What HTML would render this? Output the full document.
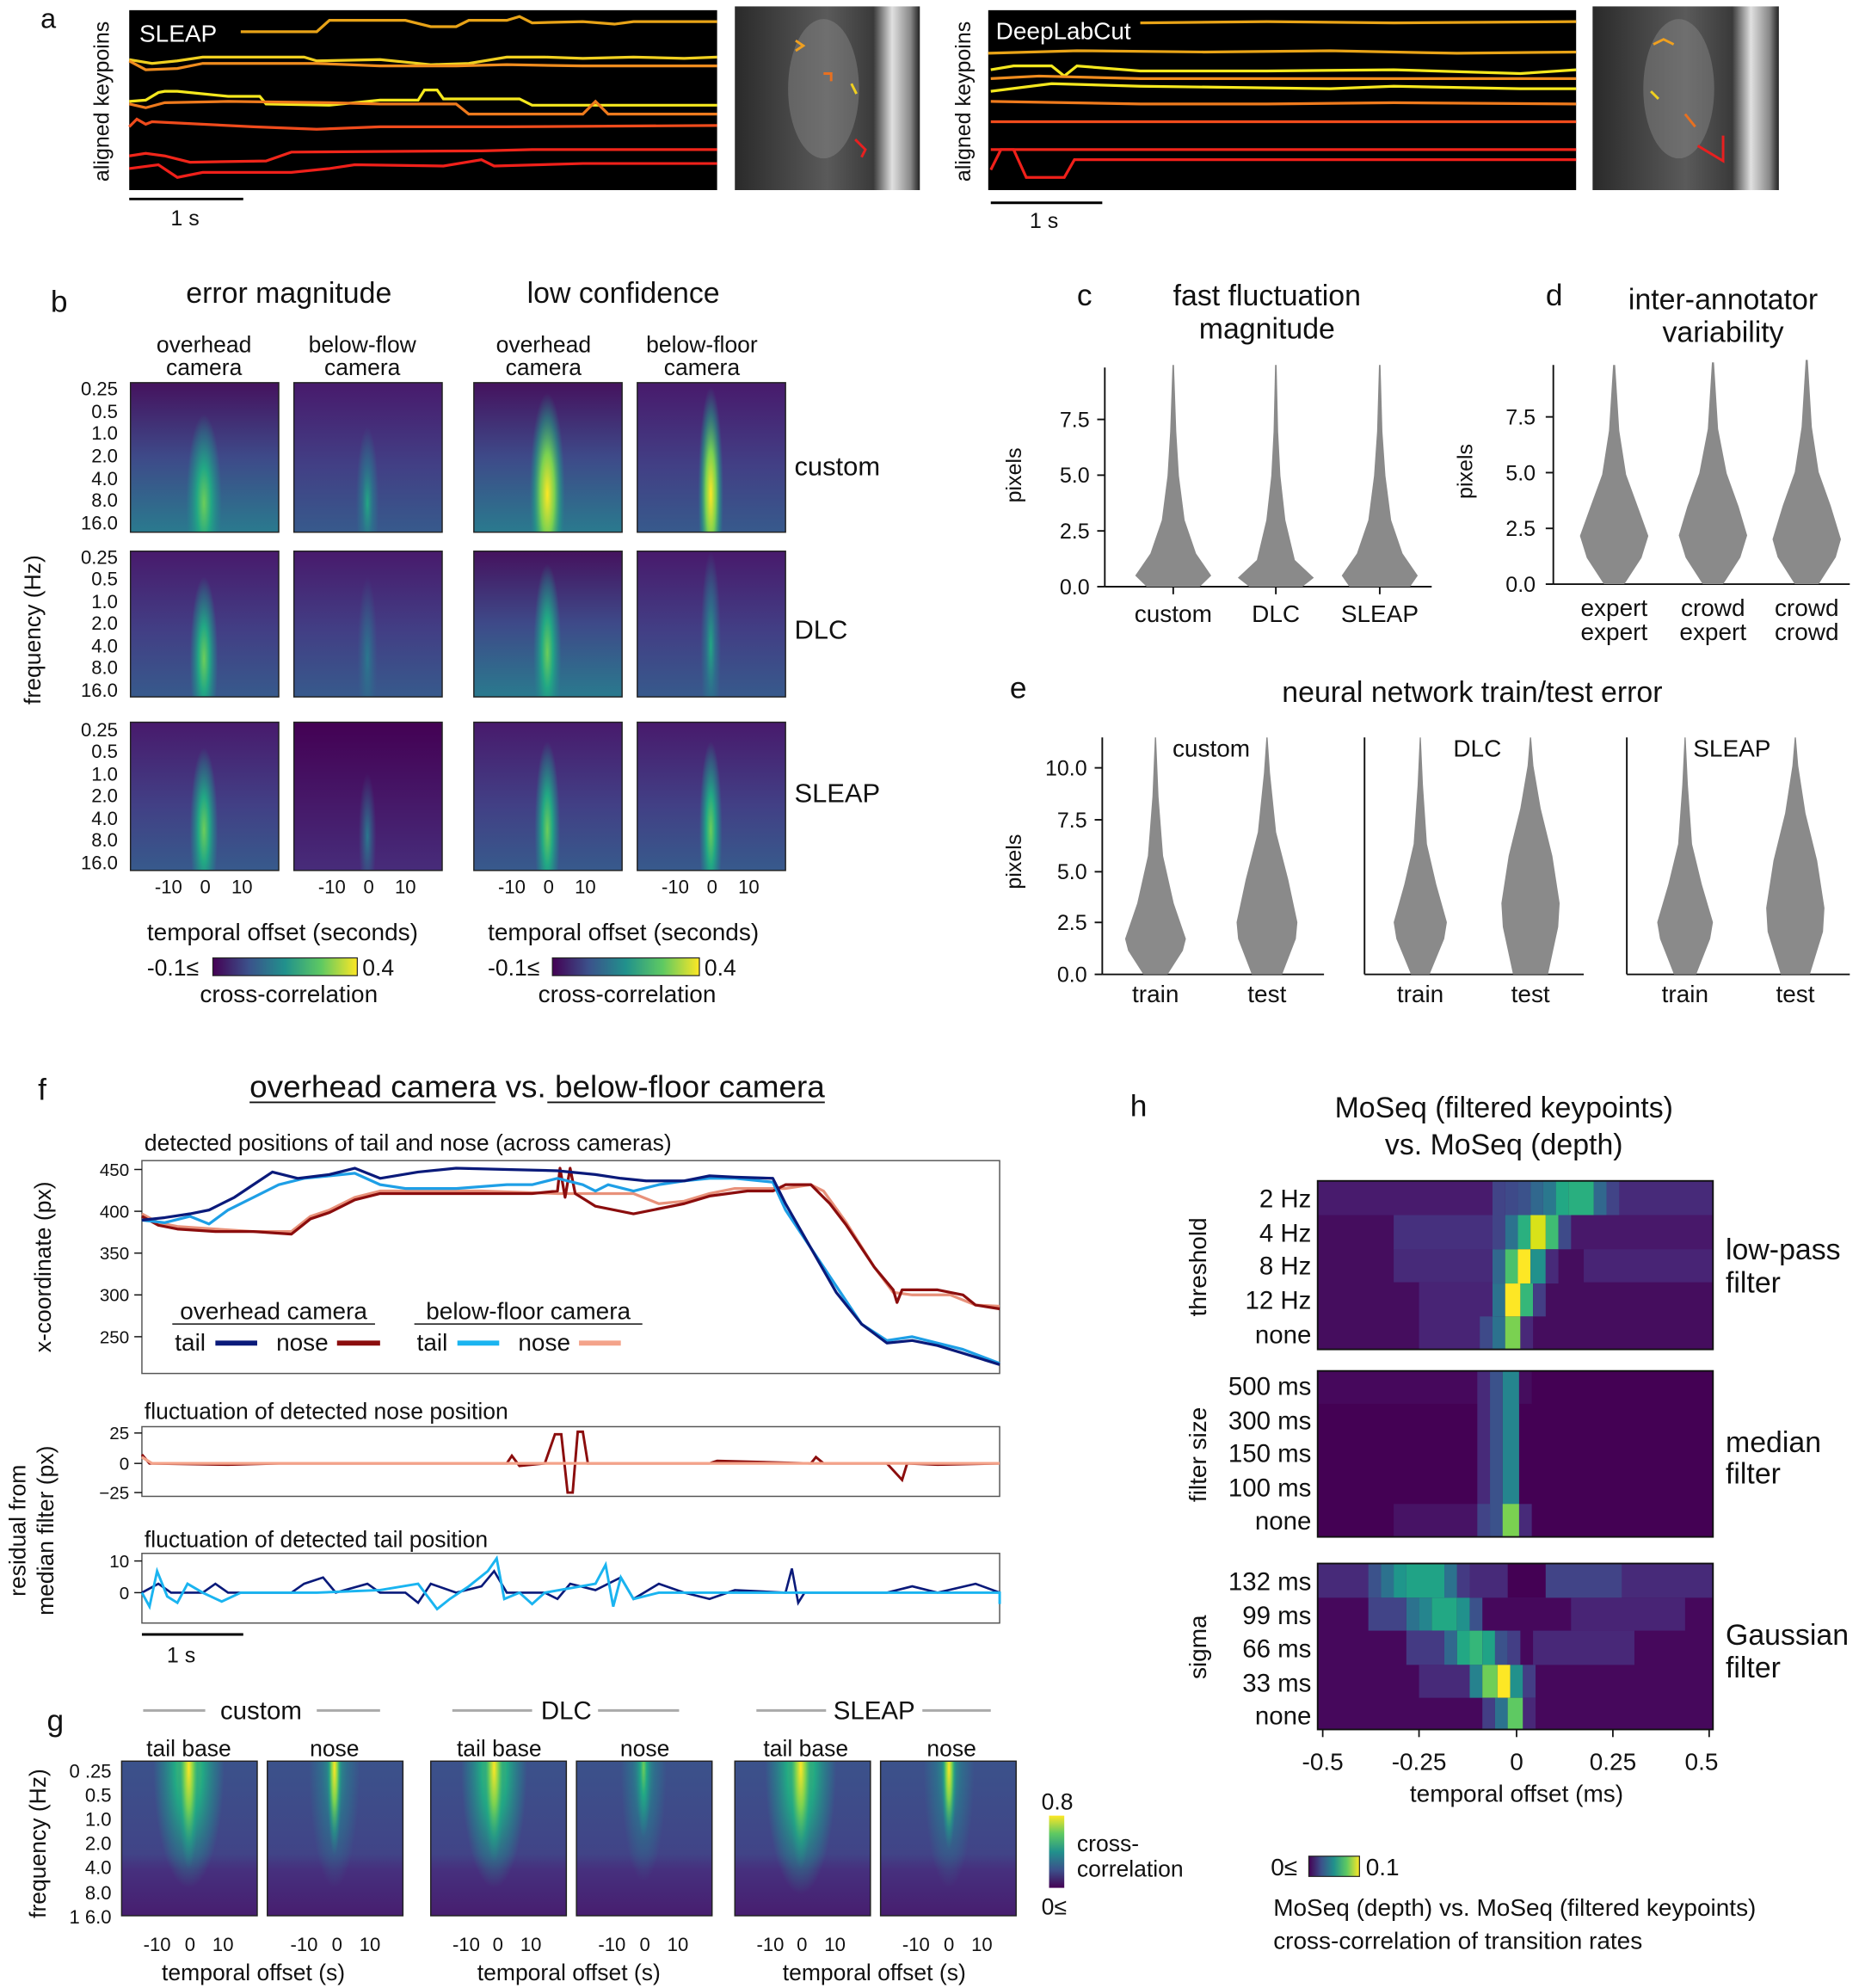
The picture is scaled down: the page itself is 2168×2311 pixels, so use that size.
<!DOCTYPE html>
<html><head><meta charset="utf-8"><style>
html,body{margin:0;padding:0;background:#fff;}
svg{display:block;}
text{font-family:"Liberation Sans","DejaVu Sans",sans-serif;fill:#111;}
</style></head><body>
<svg width="2168" height="2311" viewBox="0 0 1472 1569" xmlns="http://www.w3.org/2000/svg">
<defs>
<linearGradient id="bgA" x1="0" y1="0" x2="0" y2="1"><stop offset="0" stop-color="#45125e"/><stop offset="0.5" stop-color="#3e4a89"/><stop offset="1" stop-color="#2a7a8e"/></linearGradient>
<linearGradient id="bgB" x1="0" y1="0" x2="0" y2="1"><stop offset="0" stop-color="#481a6c"/><stop offset="0.55" stop-color="#423f85"/><stop offset="1" stop-color="#375a8c"/></linearGradient>
<linearGradient id="bgC" x1="0" y1="0" x2="0" y2="1"><stop offset="0" stop-color="#440154"/><stop offset="1" stop-color="#472c7a"/></linearGradient>
<linearGradient id="bgG" x1="0" y1="0" x2="0" y2="1"><stop offset="0" stop-color="#3b528b"/><stop offset="0.6" stop-color="#414487"/><stop offset="0.7" stop-color="#46307e"/><stop offset="1" stop-color="#471e6f"/></linearGradient>
<radialGradient id="glY"><stop offset="0" stop-color="#fde725"/><stop offset="0.4" stop-color="#7ad151"/><stop offset="0.75" stop-color="#22a884" stop-opacity="0.5"/><stop offset="1" stop-color="#21918c" stop-opacity="0"/></radialGradient>
<radialGradient id="glG"><stop offset="0" stop-color="#6ccd5a"/><stop offset="0.4" stop-color="#22a884"/><stop offset="0.8" stop-color="#21918c" stop-opacity="0.4"/><stop offset="1" stop-color="#21918c" stop-opacity="0"/></radialGradient>
<radialGradient id="glT"><stop offset="0" stop-color="#22a884"/><stop offset="0.5" stop-color="#2a788e" stop-opacity="0.7"/><stop offset="1" stop-color="#2a788e" stop-opacity="0"/></radialGradient>
<radialGradient id="glF"><stop offset="0" stop-color="#2a788e"/><stop offset="1" stop-color="#31688e" stop-opacity="0"/></radialGradient>
<linearGradient id="cbH" x1="0" y1="0" x2="1" y2="0"><stop offset="0" stop-color="#440154"/><stop offset="0.25" stop-color="#3b528b"/><stop offset="0.5" stop-color="#21918c"/><stop offset="0.75" stop-color="#5ec962"/><stop offset="1" stop-color="#fde725"/></linearGradient>
<linearGradient id="cbV" x1="0" y1="1" x2="0" y2="0"><stop offset="0" stop-color="#440154"/><stop offset="0.25" stop-color="#3b528b"/><stop offset="0.5" stop-color="#21918c"/><stop offset="0.75" stop-color="#5ec962"/><stop offset="1" stop-color="#fde725"/></linearGradient>
<linearGradient id="mouse" x1="0" y1="0" x2="1" y2="0"><stop offset="0" stop-color="#2a2a2a"/><stop offset="0.5" stop-color="#5a5a5a"/><stop offset="0.75" stop-color="#3a3a3a"/><stop offset="0.85" stop-color="#e0e0e0"/><stop offset="0.95" stop-color="#888"/><stop offset="1" stop-color="#222"/></linearGradient>
</defs>

<!-- Panel a -->
<text x="32" y="22" font-size="22">a</text>
<rect x="102" y="8" width="464" height="142" fill="#000"/>
<text x="110" y="33" font-size="19" style="fill:#fff">SLEAP</text>
<g fill="none" stroke-width="2.2">
<polyline stroke="#e8a317" points="190,25 250,25 260,16 320,16 340,21 360,21 370,16 400,16 410,13 420,18 460,17 485,19 500,17 566,17"/>
<polyline stroke="#f0d020" points="102,47 120,50 140,48 160,45 240,45 250,48 300,47 340,51 370,50 400,45 430,45 460,46 500,45 540,46 566,45"/>
<polyline stroke="#ef8c1e" points="102,48 115,55 140,54 160,50 250,50 300,52 360,52 400,51 460,52 566,52"/>
<polyline stroke="#f5e81e" points="102,80 115,79 125,73 130,72 140,72 180,76 205,76 210,82 260,83 300,79 330,79 335,71 345,71 350,78 380,78 410,78 420,83 460,83 520,83 566,83"/>
<polyline stroke="#ee7a1d" points="102,82 115,85 130,81 180,80 260,81 300,82 360,82 370,90 460,90 470,80 480,90 520,90 566,90"/>
<polyline stroke="#ef4b1c" points="102,100 108,94 115,98 120,96 200,100 250,102 300,100 400,100 566,99"/>
<polyline stroke="#f0261a" points="102,123 115,121 130,123 150,128 210,127 230,120 380,119 420,118 470,118 566,118"/>
<polyline stroke="#f0201a" points="102,133 125,130 140,140 160,136 230,136 260,133 280,130 350,131 380,126 390,131 460,129 566,129"/>
</g>
<rect x="580" y="5" width="146" height="145" fill="url(#mouse)"/>
<ellipse cx="650" cy="70" rx="28" ry="55" fill="#8a8a8a" opacity="0.45"/>
<g fill="none" stroke-width="2"><path d="M628,32 l6,4 -6,4" stroke="#f0a020"/><path d="M650,58 l6,0 0,6" stroke="#e87020"/><path d="M672,66 l4,8" stroke="#f0d020"/><path d="M675,110 l8,8 -3,6" stroke="#e82020"/></g>
<text x="86" y="80" font-size="17" transform="rotate(-90 86 80)" text-anchor="middle">aligned keypoins</text>
<line x1="102" y1="157" x2="192" y2="157" stroke="#000" stroke-width="2"/>
<text x="146" y="178" font-size="17" text-anchor="middle">1 s</text>

<rect x="780" y="8" width="464" height="142" fill="#000"/>
<text x="786" y="31" font-size="19" style="fill:#fff">DeepLabCut</text>
<g fill="none" stroke-width="2.2">
<polyline stroke="#e8a317" points="900,18 1000,17 1100,18 1244,17"/>
<polyline stroke="#e8a317" points="780,42 850,40 950,41 1050,40 1150,42 1244,41"/>
<polyline stroke="#f5e81e" points="782,55 800,52 830,52 840,60 850,52 900,56 1000,56 1100,55 1200,58 1244,55"/>
<polyline stroke="#ef8c1e" points="782,62 820,60 900,62 1000,62 1100,62 1244,62"/>
<polyline stroke="#f5e81e" points="782,72 830,66 900,68 1050,70 1100,68 1200,70 1244,70"/>
<polyline stroke="#ee7a1d" points="782,80 900,82 1000,82 1100,81 1244,82"/>
<polyline stroke="#ef4b1c" points="782,96 900,96 1000,96 1244,96"/>
<polyline stroke="#f0261a" points="782,118 900,118 1000,118 1244,118"/>
<polyline stroke="#f0201a" points="782,134 790,118 800,118 810,140 840,140 848,126 900,126 1000,126 1244,126"/>
</g>
<rect x="1257" y="5" width="147" height="145" fill="url(#mouse)"/>
<ellipse cx="1325" cy="70" rx="28" ry="55" fill="#8a8a8a" opacity="0.45"/>
<g fill="none" stroke-width="2"><path d="M1305,35 l8,-4 8,4" stroke="#f0a020"/><path d="M1303,72 l6,6" stroke="#f0d020"/><path d="M1330,90 l8,10" stroke="#e87020"/><path d="M1340,115 l20,12 0,-20" stroke="#e82020"/></g>
<text x="766" y="80" font-size="17" transform="rotate(-90 766 80)" text-anchor="middle">aligned keypoins</text>
<line x1="782" y1="160" x2="870" y2="160" stroke="#000" stroke-width="2"/>
<text x="824" y="180" font-size="17" text-anchor="middle">1 s</text>

<!-- Panel b -->
<text x="40" y="246" font-size="24">b</text>
<text x="228" y="239" font-size="23" text-anchor="middle">error magnitude</text>
<text x="492" y="239" font-size="23" text-anchor="middle">low confidence</text>
<g font-size="18" text-anchor="middle">
<text x="161" y="278">overhead</text><text x="161" y="296">camera</text>
<text x="286" y="278">below-flow</text><text x="286" y="296">camera</text>
<text x="429" y="278">overhead</text><text x="429" y="296">camera</text>
<text x="554" y="278">below-floor</text><text x="554" y="296">camera</text>
</g>
<!-- custom -->
<svg x="103" y="302" width="117" height="118"><rect width="117" height="118" fill="url(#bgA)"/><ellipse cx="58" cy="95" rx="14" ry="70" fill="url(#glG)"/></svg>
<svg x="232" y="302" width="117" height="118"><rect width="117" height="118" fill="url(#bgB)"/><ellipse cx="58" cy="95" rx="9" ry="60" fill="url(#glT)"/></svg>
<svg x="374" y="302" width="117" height="118"><rect width="117" height="118" fill="url(#bgA)"/><ellipse cx="58" cy="88" rx="14" ry="80" fill="url(#glY)"/></svg>
<svg x="503" y="302" width="117" height="118"><rect width="117" height="118" fill="url(#bgB)"/><ellipse cx="58" cy="88" rx="10" ry="85" fill="url(#glY)"/></svg>
<!-- DLC -->
<svg x="103" y="435" width="117" height="115"><rect width="117" height="115" fill="url(#bgB)"/><ellipse cx="58" cy="85" rx="11" ry="65" fill="url(#glG)"/></svg>
<svg x="232" y="435" width="117" height="115"><rect width="117" height="115" fill="url(#bgB)"/><ellipse cx="58" cy="85" rx="8" ry="65" fill="url(#glF)"/></svg>
<svg x="374" y="435" width="117" height="115"><rect width="117" height="115" fill="url(#bgA)"/><ellipse cx="58" cy="80" rx="11" ry="70" fill="url(#glG)"/></svg>
<svg x="503" y="435" width="117" height="115"><rect width="117" height="115" fill="url(#bgB)"/><ellipse cx="58" cy="75" rx="8" ry="75" fill="url(#glT)"/></svg>
<!-- SLEAP -->
<svg x="103" y="570" width="117" height="117"><rect width="117" height="117" fill="url(#bgB)"/><ellipse cx="58" cy="85" rx="11" ry="65" fill="url(#glG)"/></svg>
<svg x="232" y="570" width="117" height="117"><rect width="117" height="117" fill="url(#bgC)"/><ellipse cx="58" cy="90" rx="7" ry="50" fill="url(#glF)"/></svg>
<svg x="374" y="570" width="117" height="117"><rect width="117" height="117" fill="url(#bgB)"/><ellipse cx="58" cy="85" rx="10" ry="70" fill="url(#glG)"/></svg>
<svg x="503" y="570" width="117" height="117"><rect width="117" height="117" fill="url(#bgB)"/><ellipse cx="58" cy="85" rx="9" ry="70" fill="url(#glG)"/></svg>
<g fill="none" stroke="#222" stroke-width="1">
<rect x="103" y="302" width="117" height="118"/><rect x="232" y="302" width="117" height="118"/><rect x="374" y="302" width="117" height="118"/><rect x="503" y="302" width="117" height="118"/>
<rect x="103" y="435" width="117" height="115"/><rect x="232" y="435" width="117" height="115"/><rect x="374" y="435" width="117" height="115"/><rect x="503" y="435" width="117" height="115"/>
<rect x="103" y="570" width="117" height="117"/><rect x="232" y="570" width="117" height="117"/><rect x="374" y="570" width="117" height="117"/><rect x="503" y="570" width="117" height="117"/>
</g>
<g font-size="15" text-anchor="end">
<text x="93" y="312">0.25</text><text x="93" y="330">0.5</text><text x="93" y="347">1.0</text><text x="93" y="365">2.0</text><text x="93" y="383">4.0</text><text x="93" y="400">8.0</text><text x="93" y="418">16.0</text>
<text x="93" y="445">0.25</text><text x="93" y="462">0.5</text><text x="93" y="480">1.0</text><text x="93" y="497">2.0</text><text x="93" y="515">4.0</text><text x="93" y="532">8.0</text><text x="93" y="550">16.0</text>
<text x="93" y="581">0.25</text><text x="93" y="598">0.5</text><text x="93" y="616">1.0</text><text x="93" y="633">2.0</text><text x="93" y="651">4.0</text><text x="93" y="668">8.0</text><text x="93" y="686">16.0</text>
</g>
<g font-size="21"><text x="627" y="375">custom</text><text x="627" y="504">DLC</text><text x="627" y="633">SLEAP</text></g>
<text x="32" y="497" font-size="18" text-anchor="middle" transform="rotate(-90 32 497)">frequency (Hz)</text>
<g font-size="15" text-anchor="middle">
<text x="133" y="705">-10</text><text x="162" y="705">0</text><text x="191" y="705">10</text>
<text x="262" y="705">-10</text><text x="291" y="705">0</text><text x="320" y="705">10</text>
<text x="404" y="705">-10</text><text x="433" y="705">0</text><text x="462" y="705">10</text>
<text x="533" y="705">-10</text><text x="562" y="705">0</text><text x="591" y="705">10</text>
</g>
<g font-size="19" text-anchor="middle">
<text x="223" y="742">temporal offset (seconds)</text><text x="492" y="742">temporal offset (seconds)</text>
<text x="228" y="791">cross-correlation</text><text x="495" y="791">cross-correlation</text>
</g>
<rect x="168" y="756" width="114" height="14" fill="url(#cbH)" stroke="#222" stroke-width="0.8"/>
<rect x="436" y="756" width="116" height="14" fill="url(#cbH)" stroke="#222" stroke-width="0.8"/>
<g font-size="18"><text x="116" y="770">-0.1≤</text><text x="286" y="770">0.4</text><text x="385" y="770">-0.1≤</text><text x="556" y="770">0.4</text></g>

<!-- Panel c -->
<text x="850" y="241" font-size="24">c</text>
<text x="1000" y="241" font-size="23" text-anchor="middle">fast fluctuation</text>
<text x="1000" y="267" font-size="23" text-anchor="middle">magnitude</text>
<g stroke="#111" stroke-width="1.3"><line x1="872" y1="290" x2="872" y2="463"/><line x1="872" y1="463" x2="1130" y2="463"/>
<line x1="866" y1="463" x2="872" y2="463"/><line x1="866" y1="419" x2="872" y2="419"/><line x1="866" y1="375" x2="872" y2="375"/><line x1="866" y1="331" x2="872" y2="331"/>
<line x1="926" y1="463" x2="926" y2="469"/><line x1="1007" y1="463" x2="1007" y2="469"/><line x1="1089" y1="463" x2="1089" y2="469"/></g>
<g font-size="17" text-anchor="end"><text x="860" y="469">0.0</text><text x="860" y="425">2.5</text><text x="860" y="381">5.0</text><text x="860" y="337">7.5</text></g>
<text x="806" y="375" font-size="17" text-anchor="middle" transform="rotate(-90 806 375)">pixels</text>
<g font-size="19" text-anchor="middle"><text x="926" y="491">custom</text><text x="1007" y="491">DLC</text><text x="1089" y="491">SLEAP</text></g>
<g fill="#8a8a8a">
<polygon transform="translate(926,463) scale(30,175)" points="0.7,0 1,-0.05 0.6,-0.15 0.3,-0.3 0.15,-0.5 0.08,-0.7 0.02,-1 -0.02,-1 -0.08,-0.7 -0.15,-0.5 -0.3,-0.3 -0.6,-0.15 -1,-0.05 -0.7,0"/>
<polygon transform="translate(1007,463) scale(30,175)" points="0.7,0 1,-0.04 0.5,-0.12 0.25,-0.3 0.12,-0.5 0.06,-0.7 0.02,-1 -0.02,-1 -0.06,-0.7 -0.12,-0.5 -0.25,-0.3 -0.5,-0.12 -1,-0.04 -0.7,0"/>
<polygon transform="translate(1089,463) scale(30,175)" points="0.8,0 1,-0.05 0.6,-0.15 0.3,-0.3 0.15,-0.5 0.07,-0.7 0.02,-1 -0.02,-1 -0.07,-0.7 -0.15,-0.5 -0.3,-0.3 -0.6,-0.15 -1,-0.05 -0.8,0"/>
</g>

<!-- Panel d -->
<text x="1220" y="241" font-size="24">d</text>
<text x="1360" y="244" font-size="23" text-anchor="middle">inter-annotator</text>
<text x="1360" y="270" font-size="23" text-anchor="middle">variability</text>
<g stroke="#111" stroke-width="1.3"><line x1="1226" y1="288" x2="1226" y2="461"/><line x1="1226" y1="461" x2="1460" y2="461"/>
<line x1="1220" y1="461" x2="1226" y2="461"/><line x1="1220" y1="417" x2="1226" y2="417"/><line x1="1220" y1="373" x2="1226" y2="373"/><line x1="1220" y1="329" x2="1226" y2="329"/></g>
<g font-size="17" text-anchor="end"><text x="1212" y="467">0.0</text><text x="1212" y="423">2.5</text><text x="1212" y="379">5.0</text><text x="1212" y="335">7.5</text></g>
<text x="1162" y="372" font-size="17" text-anchor="middle" transform="rotate(-90 1162 372)">pixels</text>
<g font-size="19" text-anchor="middle"><text x="1274" y="486">expert</text><text x="1274" y="505">expert</text><text x="1352" y="486">crowd</text><text x="1352" y="505">expert</text><text x="1426" y="486">crowd</text><text x="1426" y="505">crowd</text></g>
<g fill="#8a8a8a">
<polygon transform="translate(1274,461) scale(27,173)" points="0.3,0 0.8,-0.12 1,-0.22 0.7,-0.35 0.35,-0.5 0.15,-0.7 0.03,-1 -0.03,-1 -0.15,-0.7 -0.35,-0.5 -0.7,-0.35 -1,-0.22 -0.8,-0.12 -0.3,0"/>
<polygon transform="translate(1352,461) scale(27,175)" points="0.3,0 0.8,-0.12 1,-0.22 0.75,-0.35 0.4,-0.5 0.15,-0.7 0.03,-1 -0.03,-1 -0.15,-0.7 -0.4,-0.5 -0.75,-0.35 -1,-0.22 -0.8,-0.12 -0.3,0"/>
<polygon transform="translate(1426,461) scale(27,177)" points="0.35,0 0.85,-0.12 1,-0.2 0.7,-0.35 0.35,-0.5 0.15,-0.7 0.03,-1 -0.03,-1 -0.15,-0.7 -0.35,-0.5 -0.7,-0.35 -1,-0.2 -0.85,-0.12 -0.35,0"/>
</g>

<!-- Panel e -->
<text x="797" y="551" font-size="24">e</text>
<text x="1162" y="554" font-size="23" text-anchor="middle">neural network train/test error</text>
<g stroke="#111" stroke-width="1.3">
<line x1="870" y1="582" x2="870" y2="769"/><line x1="870" y1="769" x2="1045" y2="769"/>
<line x1="1077" y1="582" x2="1077" y2="769"/><line x1="1077" y1="769" x2="1250" y2="769"/>
<line x1="1284" y1="582" x2="1284" y2="769"/><line x1="1284" y1="769" x2="1460" y2="769"/>
<line x1="864" y1="769" x2="870" y2="769"/><line x1="864" y1="728" x2="870" y2="728"/><line x1="864" y1="688" x2="870" y2="688"/><line x1="864" y1="647" x2="870" y2="647"/><line x1="864" y1="606" x2="870" y2="606"/>
</g>
<g font-size="17" text-anchor="end"><text x="858" y="775">0.0</text><text x="858" y="734">2.5</text><text x="858" y="694">5.0</text><text x="858" y="653">7.5</text><text x="858" y="612">10.0</text></g>
<text x="806" y="680" font-size="17" text-anchor="middle" transform="rotate(-90 806 680)">pixels</text>
<g font-size="19" text-anchor="middle"><text x="956" y="597">custom</text><text x="1166" y="597">DLC</text><text x="1367" y="597">SLEAP</text>
<text x="912" y="791">train</text><text x="1000" y="791">test</text><text x="1121" y="791">train</text><text x="1208" y="791">test</text><text x="1330" y="791">train</text><text x="1417" y="791">test</text></g>
<g fill="#8a8a8a">
<polygon transform="translate(912,769) scale(24,187)" points="0.4,0 0.9,-0.1 1,-0.15 0.6,-0.3 0.25,-0.5 0.1,-0.75 0.02,-1 -0.02,-1 -0.1,-0.75 -0.25,-0.5 -0.6,-0.3 -1,-0.15 -0.9,-0.1 -0.4,0"/>
<polygon transform="translate(1000,769) scale(24,187)" points="0.5,0 0.95,-0.15 1,-0.22 0.7,-0.4 0.3,-0.6 0.1,-0.85 0.02,-1 -0.02,-1 -0.1,-0.85 -0.3,-0.6 -0.7,-0.4 -1,-0.22 -0.95,-0.15 -0.5,0"/>
<polygon transform="translate(1121,769) scale(21,187)" points="0.35,0 0.9,-0.15 1,-0.22 0.6,-0.38 0.25,-0.55 0.1,-0.8 0.02,-1 -0.02,-1 -0.1,-0.8 -0.25,-0.55 -0.6,-0.38 -1,-0.22 -0.9,-0.15 -0.35,0"/>
<polygon transform="translate(1208,769) scale(23,187)" points="0.6,0 0.95,-0.2 1,-0.3 0.75,-0.5 0.35,-0.7 0.1,-0.88 0.02,-1 -0.02,-1 -0.1,-0.88 -0.35,-0.7 -0.75,-0.5 -1,-0.3 -0.95,-0.2 -0.6,0"/>
<polygon transform="translate(1330,769) scale(22,187)" points="0.4,0 0.9,-0.15 1,-0.22 0.6,-0.38 0.25,-0.55 0.1,-0.8 0.02,-1 -0.02,-1 -0.1,-0.8 -0.25,-0.55 -0.6,-0.38 -1,-0.22 -0.9,-0.15 -0.4,0"/>
<polygon transform="translate(1417,769) scale(23,187)" points="0.5,0 0.95,-0.18 1,-0.28 0.75,-0.48 0.35,-0.68 0.1,-0.88 0.02,-1 -0.02,-1 -0.1,-0.88 -0.35,-0.68 -0.75,-0.48 -1,-0.28 -0.95,-0.18 -0.5,0"/>
</g>

<!-- Panel f -->
<text x="30" y="868" font-size="24">f</text>
<text x="424" y="866" font-size="24.5" text-anchor="middle" textLength="454" lengthAdjust="spacingAndGlyphs">overhead camera vs. below-floor camera</text>
<line x1="197" y1="870" x2="391" y2="870" stroke="#111" stroke-width="1.3"/><line x1="432" y1="870" x2="651" y2="870" stroke="#111" stroke-width="1.3"/>
<text x="114" y="908" font-size="18">detected positions of tail and nose (across cameras)</text>
<rect x="112" y="916" width="677" height="168" fill="none" stroke="#555" stroke-width="1"/>
<g stroke="#111" stroke-width="1"><line x1="106" y1="923" x2="112" y2="923"/><line x1="106" y1="956" x2="112" y2="956"/><line x1="106" y1="989" x2="112" y2="989"/><line x1="106" y1="1022" x2="112" y2="1022"/><line x1="106" y1="1055" x2="112" y2="1055"/></g>
<g font-size="14" text-anchor="end"><text x="102" y="928">450</text><text x="102" y="961">400</text><text x="102" y="994">350</text><text x="102" y="1027">300</text><text x="102" y="1060">250</text></g>
<text x="40" y="1000" font-size="18" text-anchor="middle" transform="rotate(-90 40 1000)">x-coordinate (px)</text>
<g fill="none" stroke-width="2.2" stroke-linejoin="round">
<polyline stroke="#e8917a" points="112,958 125,965 140,968 170,970 200,972 230,972 245,960 260,955 280,945 300,940 380,940 440,942 500,942 520,950 540,948 560,942 580,938 620,938 640,935 650,940 668,965 690,1000 705,1020 720,1022 750,1022 770,1030 789,1031"/>
<polyline stroke="#8b0d0d" points="112,960 125,967 140,970 170,972 200,972 230,974 245,962 260,957 280,947 300,942 380,942 420,942 440,940 442,922 446,945 450,922 454,942 470,952 500,958 520,954 540,950 560,944 590,940 610,940 620,935 640,935 655,950 668,967 690,1000 705,1018 708,1028 712,1018 740,1018 760,1022 770,1030 789,1033"/>
<polyline stroke="#1e9fe6" points="112,963 130,965 150,960 165,966 180,955 200,945 220,935 240,930 260,928 280,926 300,935 320,938 360,938 400,935 420,935 440,930 460,935 470,940 480,935 500,940 520,935 540,932 560,930 580,930 610,933 620,955 640,985 660,1015 680,1045 700,1058 720,1055 740,1060 760,1065 789,1076"/>
<polyline stroke="#0a1a7a" points="112,963 130,961 150,958 165,955 185,945 200,935 215,925 235,930 260,927 280,922 300,930 330,925 360,922 400,923 440,924 470,927 490,930 510,932 540,932 560,928 580,929 610,930 620,950 640,985 660,1020 680,1045 700,1060 720,1058 740,1062 760,1068 789,1077"/>
</g>
<text x="216" y="1041" font-size="19" text-anchor="middle">overhead camera</text><line x1="136" y1="1045" x2="296" y2="1045" stroke="#111"/>
<text x="417" y="1041" font-size="19" text-anchor="middle">below-floor camera</text><line x1="327" y1="1045" x2="507" y2="1045" stroke="#111"/>
<g font-size="19"><text x="138" y="1066">tail</text><text x="218" y="1066">nose</text><text x="329" y="1066">tail</text><text x="409" y="1066">nose</text></g>
<g stroke-width="4"><line x1="170" y1="1060" x2="203" y2="1060" stroke="#0a1a7a"/><line x1="266" y1="1060" x2="300" y2="1060" stroke="#8b0d0d"/><line x1="361" y1="1060" x2="394" y2="1060" stroke="#1ab4f0"/><line x1="457" y1="1060" x2="490" y2="1060" stroke="#f4a38a"/></g>

<text x="114" y="1120" font-size="18">fluctuation of detected nose position</text>
<rect x="112" y="1126" width="677" height="55" fill="none" stroke="#555" stroke-width="1"/>
<g font-size="14" text-anchor="end"><text x="102" y="1136">25</text><text x="102" y="1160">0</text><text x="102" y="1183">−25</text></g>
<g stroke="#111" stroke-width="1"><line x1="106" y1="1131" x2="112" y2="1131"/><line x1="106" y1="1155" x2="112" y2="1155"/><line x1="106" y1="1178" x2="112" y2="1178"/></g>
<polyline fill="none" stroke="#8b0d0d" stroke-width="2" points="112,1148 118,1155 180,1156 220,1155 400,1155 404,1149 410,1157 430,1155 438,1132 443,1132 448,1178 452,1178 456,1130 460,1130 464,1155 560,1155 566,1153 640,1155 644,1150 650,1155 700,1155 712,1168 716,1155 740,1156 789,1155"/>
<polyline fill="none" stroke="#f4a38a" stroke-width="2.2" points="112,1150 120,1155 789,1155"/>

<text x="114" y="1221" font-size="18">fluctuation of detected tail position</text>
<rect x="112" y="1226" width="677" height="55" fill="none" stroke="#555" stroke-width="1"/>
<g font-size="14" text-anchor="end"><text x="102" y="1237">10</text><text x="102" y="1262">0</text></g>
<g stroke="#111" stroke-width="1"><line x1="106" y1="1232" x2="112" y2="1232"/><line x1="106" y1="1257" x2="112" y2="1257"/></g>
<polyline fill="none" stroke="#0a1a7a" stroke-width="1.8" points="112,1257 125,1250 135,1257 160,1257 170,1250 180,1257 230,1257 240,1250 255,1245 265,1257 290,1250 300,1257 320,1257 330,1265 340,1250 360,1257 380,1252 390,1240 400,1257 430,1257 440,1262 450,1250 470,1255 490,1245 500,1262 520,1250 540,1257 560,1262 580,1255 620,1257 625,1238 630,1265 635,1257 680,1257 700,1257 720,1252 740,1257 770,1250 789,1257"/>
<polyline fill="none" stroke="#1ab4f0" stroke-width="2" points="112,1257 118,1268 124,1240 132,1260 140,1265 148,1250 160,1257 175,1264 190,1257 230,1257 250,1257 300,1255 330,1250 345,1270 355,1262 370,1252 385,1240 392,1230 398,1262 410,1257 420,1266 430,1257 470,1250 478,1235 484,1268 490,1245 500,1262 520,1257 560,1257 600,1257 789,1257 789,1266"/>
<text x="20" y="1208" font-size="18" text-anchor="middle" transform="rotate(-90 20 1208)">residual from</text>
<text x="42" y="1208" font-size="18" text-anchor="middle" transform="rotate(-90 42 1208)">median filter (px)</text>
<line x1="112" y1="1290" x2="192" y2="1290" stroke="#000" stroke-width="2"/>
<text x="143" y="1312" font-size="17" text-anchor="middle">1 s</text>

<!-- Panel g -->
<text x="37" y="1366" font-size="24">g</text>
<g stroke="#aaa" stroke-width="2"><line x1="113" y1="1350" x2="162" y2="1350"/><line x1="250" y1="1350" x2="300" y2="1350"/><line x1="357" y1="1350" x2="420" y2="1350"/><line x1="472" y1="1350" x2="536" y2="1350"/><line x1="597" y1="1350" x2="652" y2="1350"/><line x1="728" y1="1350" x2="782" y2="1350"/></g>
<g font-size="20" text-anchor="middle"><text x="206" y="1357">custom</text><text x="447" y="1357">DLC</text><text x="690" y="1357">SLEAP</text></g>
<g font-size="18" text-anchor="middle"><text x="149" y="1386">tail base</text><text x="264" y="1386">nose</text><text x="394" y="1386">tail base</text><text x="509" y="1386">nose</text><text x="636" y="1386">tail base</text><text x="751" y="1386">nose</text></g>
<svg x="96" y="1390" width="107" height="122"><rect width="107" height="122" fill="url(#bgG)"/><ellipse cx="53" cy="5" rx="28" ry="95" fill="url(#glG)"/><ellipse cx="53" cy="5" rx="9" ry="80" fill="url(#glY)"/></svg>
<svg x="211" y="1390" width="107" height="122"><rect width="107" height="122" fill="url(#bgG)"/><ellipse cx="53" cy="5" rx="20" ry="95" fill="url(#glT)"/><ellipse cx="53" cy="5" rx="6" ry="70" fill="url(#glY)"/></svg>
<svg x="340" y="1390" width="107" height="122"><rect width="107" height="122" fill="url(#bgG)"/><ellipse cx="50" cy="5" rx="26" ry="95" fill="url(#glG)"/><ellipse cx="50" cy="5" rx="9" ry="75" fill="url(#glY)"/></svg>
<svg x="455" y="1390" width="107" height="122"><rect width="107" height="122" fill="url(#bgG)"/><ellipse cx="53" cy="5" rx="18" ry="90" fill="url(#glT)"/><ellipse cx="53" cy="5" rx="6" ry="55" fill="url(#glG)"/></svg>
<svg x="580" y="1390" width="107" height="122"><rect width="107" height="122" fill="url(#bgG)"/><ellipse cx="52" cy="5" rx="28" ry="100" fill="url(#glG)"/><ellipse cx="52" cy="5" rx="10" ry="80" fill="url(#glY)"/></svg>
<svg x="695" y="1390" width="107" height="122"><rect width="107" height="122" fill="url(#bgG)"/><ellipse cx="54" cy="5" rx="20" ry="95" fill="url(#glT)"/><ellipse cx="54" cy="5" rx="6" ry="65" fill="url(#glY)"/></svg>
<g fill="none" stroke="#222" stroke-width="1"><rect x="96" y="1390" width="107" height="122"/><rect x="211" y="1390" width="107" height="122"/><rect x="340" y="1390" width="107" height="122"/><rect x="455" y="1390" width="107" height="122"/><rect x="580" y="1390" width="107" height="122"/><rect x="695" y="1390" width="107" height="122"/></g>
<g font-size="15" text-anchor="end"><text x="88" y="1403">0 .25</text><text x="88" y="1422">0.5</text><text x="88" y="1441">1.0</text><text x="88" y="1460">2.0</text><text x="88" y="1479">4.0</text><text x="88" y="1499">8.0</text><text x="88" y="1518">1 6.0</text></g>
<text x="36" y="1455" font-size="18" text-anchor="middle" transform="rotate(-90 36 1455)">frequency (Hz)</text>
<g font-size="15" text-anchor="middle">
<text x="124" y="1540">-10</text><text x="150" y="1540">0</text><text x="176" y="1540">10</text>
<text x="240" y="1540">-10</text><text x="266" y="1540">0</text><text x="292" y="1540">10</text>
<text x="368" y="1540">-10</text><text x="393" y="1540">0</text><text x="419" y="1540">10</text>
<text x="483" y="1540">-10</text><text x="509" y="1540">0</text><text x="535" y="1540">10</text>
<text x="608" y="1540">-10</text><text x="633" y="1540">0</text><text x="659" y="1540">10</text>
<text x="723" y="1540">-10</text><text x="749" y="1540">0</text><text x="775" y="1540">10</text>
</g>
<g font-size="18" text-anchor="middle"><text x="200" y="1563">temporal offset (s)</text><text x="449" y="1563">temporal offset (s)</text><text x="690" y="1563">temporal offset (s)</text></g>
<rect x="828" y="1433" width="12" height="57" fill="url(#cbV)"/>
<g font-size="18"><text x="822" y="1428">0.8</text><text x="822" y="1511">0≤</text><text x="850" y="1461">cross-</text><text x="850" y="1481">correlation</text></g>

<!-- Panel h -->
<text x="892" y="881" font-size="24">h</text>
<text x="1187" y="882" font-size="23" text-anchor="middle">MoSeq (filtered keypoints)</text>
<text x="1187" y="911" font-size="23" text-anchor="middle">vs. MoSeq (depth)</text>
<rect x="1040" y="932" width="312" height="133" fill="#450d5e"/>
<g>
<rect x="1040" y="932" width="140" height="27" fill="#481b6d"/><rect x="1260" y="932" width="92" height="27" fill="#472a79"/>
<rect x="1100" y="985" width="80" height="27" fill="#472a79"/><rect x="1250" y="985" width="102" height="27" fill="#482475"/>
<rect x="1100" y="959" width="80" height="27" fill="#46307e"/><rect x="1230" y="959" width="122" height="27" fill="#48186a"/>
<rect x="1120" y="1012" width="60" height="53" fill="#482475"/>
<rect x="1178" y="932" width="10" height="27" fill="#414487"/><rect x="1188" y="932" width="10" height="27" fill="#3e4a89"/><rect x="1198" y="932" width="10" height="27" fill="#3b528b"/><rect x="1208" y="932" width="10" height="27" fill="#31688e"/><rect x="1218" y="932" width="10" height="27" fill="#2a788e"/><rect x="1228" y="932" width="10" height="27" fill="#22a884"/><rect x="1238" y="932" width="20" height="27" fill="#29af7f"/><rect x="1258" y="932" width="10" height="27" fill="#31688e"/><rect x="1268" y="932" width="10" height="27" fill="#414487"/>
<rect x="1178" y="959" width="10" height="27" fill="#414487"/><rect x="1188" y="959" width="10" height="27" fill="#2c728e"/><rect x="1198" y="959" width="10" height="27" fill="#2ab07f"/><rect x="1208" y="959" width="12" height="27" fill="#d8e219"/><rect x="1220" y="959" width="10" height="27" fill="#3fbc73"/><rect x="1230" y="959" width="10" height="27" fill="#3e4a89"/>
<rect x="1178" y="986" width="10" height="27" fill="#31688e"/><rect x="1188" y="986" width="10" height="27" fill="#4ac16d"/><rect x="1198" y="986" width="10" height="27" fill="#fde725"/><rect x="1208" y="986" width="12" height="27" fill="#21918c"/><rect x="1220" y="986" width="10" height="27" fill="#472a79"/>
<rect x="1178" y="1013" width="10" height="26" fill="#2c728e"/><rect x="1188" y="1013" width="12" height="26" fill="#fde725"/><rect x="1200" y="1013" width="10" height="26" fill="#35b779"/><rect x="1210" y="1013" width="10" height="26" fill="#433e85"/>
<rect x="1168" y="1039" width="10" height="26" fill="#3e4a89"/><rect x="1178" y="1039" width="10" height="26" fill="#2c728e"/><rect x="1188" y="1039" width="12" height="26" fill="#7ad151"/><rect x="1200" y="1039" width="10" height="26" fill="#482878"/>
</g>
<rect x="1040" y="932" width="312" height="133" fill="none" stroke="#111" stroke-width="1.3"/>
<rect x="1040" y="1082" width="312" height="131" fill="#440154"/>
<rect x="1040" y="1082" width="140" height="26" fill="#46085c"/>
<rect x="1166" y="1082" width="10" height="131" fill="#472a79"/><rect x="1176" y="1082" width="10" height="131" fill="#3b528b"/><rect x="1186" y="1082" width="13" height="131" fill="#25858e"/><rect x="1199" y="1082" width="10" height="26" fill="#450d5e"/>
<rect x="1100" y="1187" width="66" height="26" fill="#471365"/><rect x="1166" y="1187" width="10" height="26" fill="#414487"/><rect x="1186" y="1187" width="13" height="26" fill="#7ad151"/><rect x="1199" y="1187" width="10" height="26" fill="#472a79"/>
<rect x="1040" y="1082" width="312" height="131" fill="none" stroke="#111" stroke-width="1.3"/>
<rect x="1040" y="1234" width="312" height="131" fill="#46085c"/>
<rect x="1040" y="1234" width="312" height="27" fill="#472a79"/>
<rect x="1190" y="1234" width="30" height="27" fill="#440154"/>
<rect x="1220" y="1234" width="60" height="27" fill="#414487"/>
<rect x="1080" y="1234" width="10" height="27" fill="#3b528b"/><rect x="1090" y="1234" width="10" height="27" fill="#2c728e"/><rect x="1100" y="1234" width="10" height="27" fill="#1f968b"/><rect x="1110" y="1234" width="30" height="27" fill="#20a386"/><rect x="1140" y="1234" width="10" height="27" fill="#2c728e"/><rect x="1150" y="1234" width="10" height="27" fill="#443a83"/>
<rect x="1080" y="1261" width="30" height="26" fill="#414487"/><rect x="1110" y="1261" width="10" height="26" fill="#2c728e"/><rect x="1120" y="1261" width="10" height="26" fill="#25858e"/><rect x="1130" y="1261" width="20" height="26" fill="#22a884"/><rect x="1150" y="1261" width="10" height="26" fill="#21918c"/><rect x="1160" y="1261" width="10" height="26" fill="#3b528b"/><rect x="1240" y="1261" width="90" height="26" fill="#482475"/>
<rect x="1110" y="1287" width="30" height="27" fill="#443a83"/><rect x="1140" y="1287" width="10" height="27" fill="#31688e"/><rect x="1150" y="1287" width="10" height="27" fill="#22a884"/><rect x="1160" y="1287" width="10" height="27" fill="#35b779"/><rect x="1170" y="1287" width="10" height="27" fill="#20a386"/><rect x="1180" y="1287" width="10" height="27" fill="#3b528b"/><rect x="1190" y="1287" width="10" height="27" fill="#433e85"/><rect x="1210" y="1287" width="80" height="27" fill="#482878"/>
<rect x="1120" y="1314" width="40" height="26" fill="#472a79"/><rect x="1160" y="1314" width="10" height="26" fill="#26828e"/><rect x="1170" y="1314" width="12" height="26" fill="#6ece58"/><rect x="1182" y="1314" width="10" height="26" fill="#fde725"/><rect x="1192" y="1314" width="10" height="26" fill="#21918c"/><rect x="1202" y="1314" width="10" height="26" fill="#433e85"/>
<rect x="1170" y="1340" width="10" height="25" fill="#433e85"/><rect x="1180" y="1340" width="10" height="25" fill="#2c728e"/><rect x="1190" y="1340" width="12" height="25" fill="#5ec962"/><rect x="1202" y="1340" width="10" height="25" fill="#482878"/>
<rect x="1040" y="1234" width="312" height="131" fill="none" stroke="#111" stroke-width="1.3"/>
<g font-size="20" text-anchor="end">
<text x="1035" y="953">2 Hz</text><text x="1035" y="980">4 Hz</text><text x="1035" y="1006">8 Hz</text><text x="1035" y="1033">12 Hz</text><text x="1035" y="1060">none</text>
<text x="1035" y="1101">500 ms</text><text x="1035" y="1128">300 ms</text><text x="1035" y="1154">150 ms</text><text x="1035" y="1181">100 ms</text><text x="1035" y="1207">none</text>
<text x="1035" y="1255">132 ms</text><text x="1035" y="1282">99 ms</text><text x="1035" y="1308">66 ms</text><text x="1035" y="1335">33 ms</text><text x="1035" y="1361">none</text>
</g>
<g font-size="19" text-anchor="middle">
<text x="952" y="1000" transform="rotate(-90 952 1000)">threshold</text>
<text x="952" y="1148" transform="rotate(-90 952 1148)">filter size</text>
<text x="952" y="1300" transform="rotate(-90 952 1300)">sigma</text>
</g>
<g font-size="23"><text x="1362" y="994">low-pass</text><text x="1362" y="1020">filter</text><text x="1362" y="1146">median</text><text x="1362" y="1171">filter</text><text x="1362" y="1298">Gaussian</text><text x="1362" y="1324">filter</text></g>
<g stroke="#111" stroke-width="1.2"><line x1="1044" y1="1365" x2="1044" y2="1371"/><line x1="1120" y1="1365" x2="1120" y2="1371"/><line x1="1197" y1="1365" x2="1197" y2="1371"/><line x1="1273" y1="1365" x2="1273" y2="1371"/><line x1="1349" y1="1365" x2="1349" y2="1371"/></g>
<g font-size="19" text-anchor="middle"><text x="1044" y="1397">-0.5</text><text x="1120" y="1397">-0.25</text><text x="1197" y="1397">0</text><text x="1273" y="1397">0.25</text><text x="1343" y="1397">0.5</text>
<text x="1197" y="1422">temporal offset (ms)</text></g>
<rect x="1033" y="1465" width="40" height="16" fill="url(#cbH)" stroke="#222" stroke-width="0.8"/>
<g font-size="19"><text x="1003" y="1480">0≤</text><text x="1078" y="1480">0.1</text>
<text x="1005" y="1512">MoSeq (depth) vs. MoSeq (filtered keypoints)</text>
<text x="1005" y="1538">cross-correlation of transition rates</text></g>
</svg>
</body></html>
